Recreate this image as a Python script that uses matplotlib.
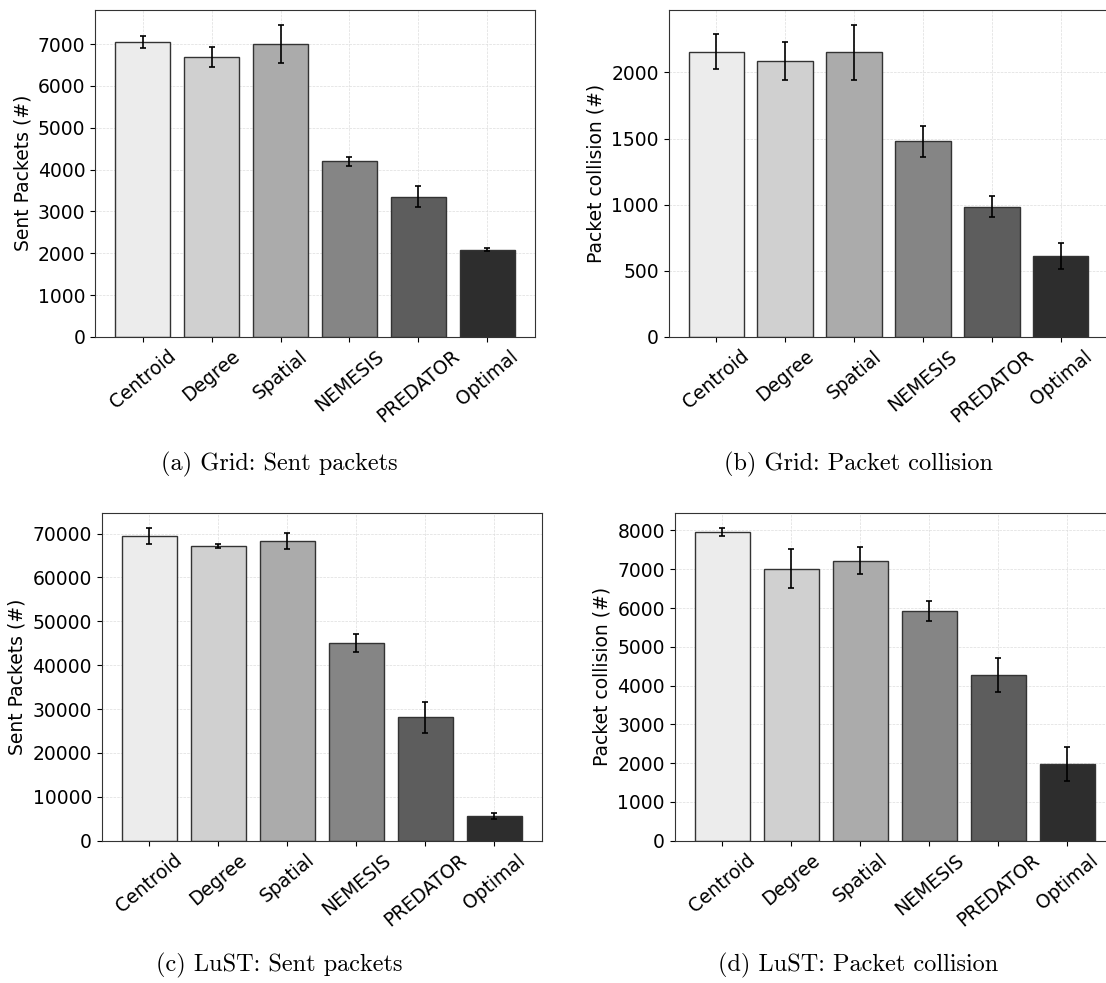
import numpy as np
import matplotlib.pyplot as plt
from matplotlib.ticker import MultipleLocator

methods = ['Centroid', 'Degree', 'Spatial', 'NEMESIS', 'PREDATOR', 'Optimal']
bar_colors = ['#ececec', '#d0d0d0', '#ababab', '#858585', '#5d5d5d', '#2d2d2d']

grid_sent = [7055, 6700, 7000, 4195, 3355, 2090]
grid_sent_err = [145, 240, 455, 100, 247, 45]

grid_coll = [2158, 2088, 2152, 1478, 985, 614]
grid_coll_err = [132, 142, 206, 118, 79, 98]

lust_sent = [69450, 67100, 68300, 45000, 28100, 5600]
lust_sent_err = [1750, 450, 1870, 2100, 3470, 700]

lust_coll = [7955, 7010, 7225, 5925, 4275, 1975]
lust_coll_err = [100, 500, 340, 260, 435, 430]

ylabels = ['Sent Packets (#)', 'Packet collision (#)',
           'Sent Packets (#)', 'Packet collision (#)']
captions = ['(a) Grid: Sent packets', '(b) Grid: Packet collision',
            '(c) LuST: Sent packets', '(d) LuST: Packet collision']
ytick_steps = [1000, 500, 10000, 1000]

W, H = 1106, 983
fig = plt.figure(figsize=(W / 100, H / 100), dpi=100)

# axes boxes in pixels: left, top, width, height
boxes = [(95, 9.5, 440, 327.5), (668.5, 9.5, 440, 327.5),
         (101.7, 512.7, 440, 328), (674.7, 512.7, 440, 328)]
cap_pos = [(279, 464), (858, 464), (279, 965), (858, 965)]

series = [(grid_sent, grid_sent_err), (grid_coll, grid_coll_err),
          (lust_sent, lust_sent_err), (lust_coll, lust_coll_err)]

x = np.arange(len(methods))
for i, (vals, errs) in enumerate(series):
    l, t, w, h = boxes[i]
    ax = fig.add_axes([l / W, (H - t - h) / H, w / W, h / H])
    ax.bar(x, vals, width=0.8, color=bar_colors, edgecolor='#333333',
           linewidth=1.0, yerr=errs, capsize=2.5,
           error_kw=dict(ecolor='black', elinewidth=1.2, capthick=1.2), zorder=2)
    ax.set_axisbelow(True)
    ax.grid(True, linestyle='--', linewidth=0.5, color='#dddddd', zorder=0)
    ax.set_xticks(x)
    ax.set_xticklabels(methods, rotation=40, ha='center')
    ax.yaxis.set_major_locator(MultipleLocator(ytick_steps[i]))
    ax.set_ylabel(ylabels[i], fontsize=13.5)
    ax.tick_params(labelsize=13.5)
    for s in ax.spines.values():
        s.set_color('#333333')
    cx, cy = cap_pos[i]
    fig.text(cx / W, 1 - cy / H, captions[i], family='cmr10', fontsize=17.5,
             ha='center', va='center')

fig.savefig('out.png', dpi=100)
